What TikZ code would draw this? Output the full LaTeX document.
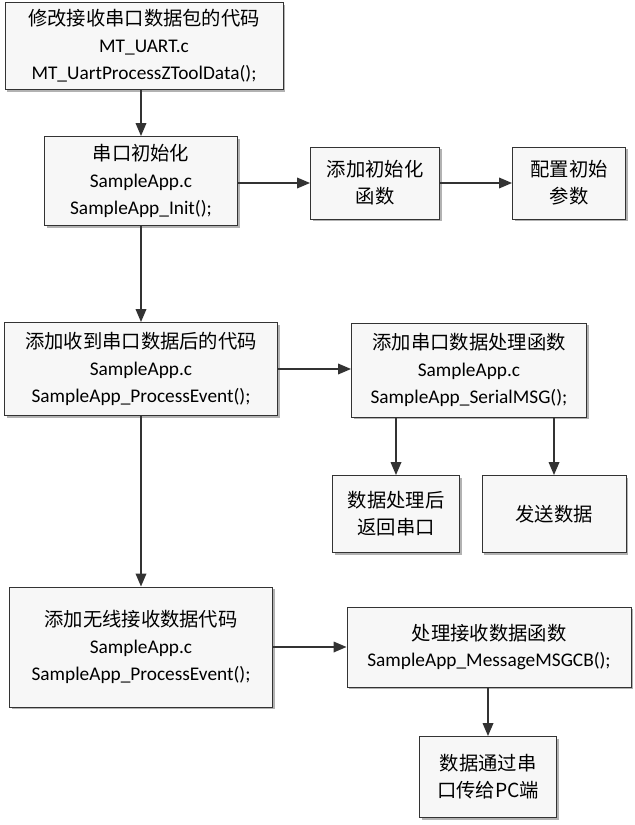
\documentclass[tikz,border=0pt]{standalone}
\usepackage{fontspec}
\setmainfont{Carlito}
\newfontfamily\cjk{Noto Sans CJK SC}
\usetikzlibrary{shadows,arrows.meta}
\tikzset{
    % boxes of the flow chart and their arrows
    stepbox/.style={draw=black!80,thick,fill=gray!6,align=center,inner sep=0pt,
        drop shadow={shadow xshift=2pt,shadow yshift=-2pt,fill=gray!60,opacity=1}},
    flow/.style={-{Triangle[length=11pt,width=9pt]},line width=1.4pt,black!80}
}
\newcommand{\zh}[1]{{\cjk #1}}
\begin{document}
\begin{tikzpicture}[x=0.03cm,y=-0.03cm,font=\fontsize{16.5}{23}\selectfont]
    \useasboundingbox (0,0) rectangle (634,825);
    % main column
    \node(uart)[stepbox,minimum width=278*0.03cm,minimum height=87*0.03cm] at (144,46)
        {\zh{修改接收串口数据包的代码}\\MT\_UART.c\\MT\_UartProcessZToolData();};
    \node(init)[stepbox,minimum width=193*0.03cm,minimum height=89*0.03cm] at (141,181)
        {\zh{串口初始化}\\SampleApp.c\\SampleApp\_Init();};
    \node(recv)[stepbox,minimum width=273*0.03cm,minimum height=93*0.03cm] at (141,369)
        {\zh{添加收到串口数据后的代码}\\SampleApp.c\\SampleApp\_ProcessEvent();};
    \node(wless)[stepbox,minimum width=263*0.03cm,minimum height=120*0.03cm] at (141,647)
        {\zh{添加无线接收数据代码}\\SampleApp.c\\SampleApp\_ProcessEvent();};
    % branches
    \node(func)[stepbox,minimum width=129*0.03cm,minimum height=72*0.03cm] at (375,183)
        {\zh{添加初始化}\\\zh{函数}};
    \node(param)[stepbox,minimum width=113*0.03cm,minimum height=72*0.03cm] at (569,183)
        {\zh{配置初始}\\\zh{参数}};
    \node(serial)[stepbox,minimum width=235*0.03cm,minimum height=94*0.03cm] at (469,370)
        {\zh{添加串口数据处理函数}\\SampleApp.c\\SampleApp\_SerialMSG();};
    \node(back)[stepbox,minimum width=127*0.03cm,minimum height=77*0.03cm] at (396,514)
        {\zh{数据处理后}\\\zh{返回串口}};
    \node(send)[stepbox,minimum width=144*0.03cm,minimum height=77*0.03cm] at (554,514)
        {\zh{发送数据}};
    \node(msg)[stepbox,minimum width=284*0.03cm,minimum height=80*0.03cm] at (489,647)
        {\zh{处理接收数据函数}\\SampleApp\_MessageMSGCB();};
    \node(pc)[stepbox,minimum width=137*0.03cm,minimum height=81*0.03cm] at (488,777)
        {\zh{数据通过串}\\\zh{口传给PC端}};
    % arrows
    \draw[flow] (uart.south -| init) -- (init);
    \draw[flow] (init.east |- func) -- (func);
    \draw[flow] (func) -- (param);
    \draw[flow] (init) -- (recv);
    \draw[flow] (recv.east) -- (recv.east -| serial.west);
    \draw[flow] (serial.south -| back) -- (back);
    \draw[flow] (serial.south -| send) -- (send);
    \draw[flow] (recv) -- (wless);
    \draw[flow] (wless.east) -- (wless.east -| msg.west);
    \draw[flow] (msg.south -| pc) -- (pc);
\end{tikzpicture}
\end{document}
